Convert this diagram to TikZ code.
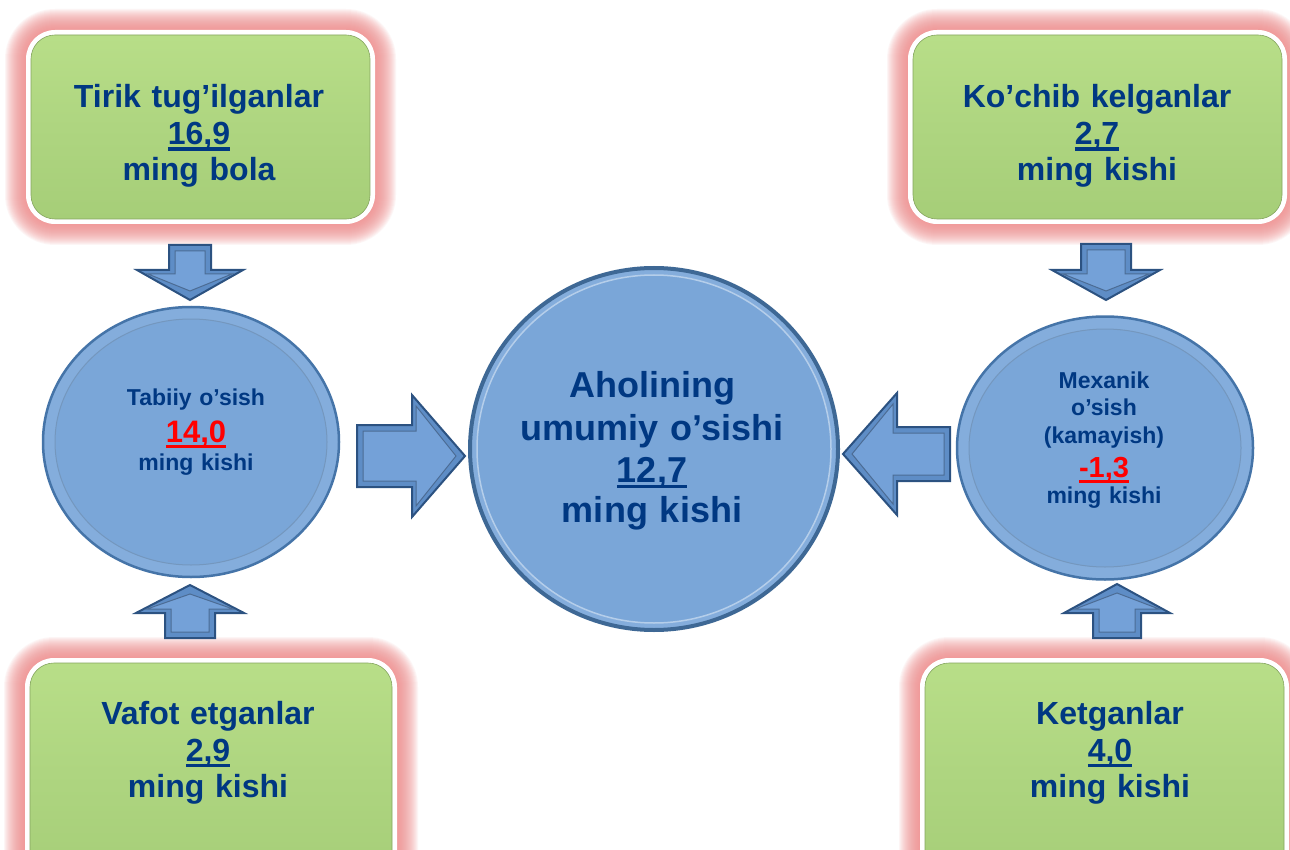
\documentclass[tikz,border=0pt]{standalone}
\usepackage{fontspec}
\setmainfont{Liberation Sans}
\usetikzlibrary{shapes.geometric,calc}
\definecolor{txtblue}{HTML}{003882}
\definecolor{glowpink}{HTML}{F08C8C}
\definecolor{gMid}{HTML}{AED580}
\definecolor{gTop}{HTML}{B8DE88}
\definecolor{gBot}{HTML}{A6CE78}
\definecolor{cFill}{HTML}{7AA6D8}
\definecolor{cBand}{HTML}{84ADDC}
\definecolor{cEdge}{HTML}{4574A8}
\definecolor{cEdgeDark}{HTML}{3E6895}
\definecolor{aBand}{HTML}{5E8DC6}
\definecolor{aFill}{HTML}{74A1D8}
\definecolor{aEdge}{HTML}{2C5281}
\newsavebox\ulbox
\newcommand\numul[1]{\leavevmode\sbox\ulbox{#1}\rlap{\rule[-6pt]{\wd\ulbox}{3.5pt}}\usebox\ulbox}
\tikzset{
  gbx/.style={rectangle, rounded corners=24, top color=gTop, bottom color=gBot, middle color=gMid, draw=gBot!80!black, line width=0.6pt, inner sep=0},
  txt/.style={text=txtblue, font=\bfseries\fontsize{32}{37}\selectfont, align=center, text width=360, inner sep=0, anchor=base},
  circ/.style={ellipse, fill=cBand, draw=cEdge, line width=2.5pt, inner sep=0},
}
\newcommand\gbox[5]{%
  \foreach \e in {6,...,26}{\fill[glowpink, opacity=0.08, rounded corners=24+\e] (#2-\e,#3-\e) rectangle (#4+\e,#5+\e);}
  \fill[white, rounded corners=29] (#2-5,#3-5) rectangle (#4+5,#5+5);
  \node[gbx, minimum width=#4-#2, minimum height=#5-#3] (#1) at ({(#2+#4)/2},{(#3+#5)/2}) {};
}
% tip x, tip y, angle, head length, head half, shaft length, shaft half
\newcommand\barrow[7]{%
  \begin{scope}[shift={(#1,#2)},rotate=#3]
    \filldraw[fill=aBand, draw=aEdge, line width=2pt, line join=miter] (0,0) -- (-#4,#5) -- (-#4,#7) -- (-#4-#6,#7) -- (-#4-#6,-#7) -- (-#4,-#7) -- (-#4,-#5) -- cycle;
    \filldraw[fill=aFill, draw=aEdge!85, line width=1pt] (-9,0) -- (-#4+4,#5-11) -- (-#4+4,#7-6) -- (-#4-#6+6,#7-6) -- (-#4-#6+6,-#7+6) -- (-#4+4,-#7+6) -- (-#4+4,-#5+11) -- cycle;
  \end{scope}}
\begin{document}
\begin{tikzpicture}[x=1pt,y=-1pt]
\useasboundingbox (0,0) rectangle (1290,850);
\clip (0,0) rectangle (1290,850);
\fill[white] (0,0) rectangle (1290,850);

% green boxes
\gbox{b1}{31}{35}{370}{219}
\gbox{b2}{913}{35}{1282}{219}
\gbox{b3}{30}{663}{392}{880}
\gbox{b4}{925}{663}{1284}{880}

\node[txt] (t1) at (199,108) {Tirik tug’ilganlar\\\numul{16,9}\\[-1pt]ming bola};
\node[txt] (t2) at (1097,108) {Ko’chib kelganlar\\\numul{2,7}\\[-1pt]ming kishi};
\node[txt] (t3) at (208,724) {Vafot etganlar\\\numul{2,9}\\[-1pt]ming kishi};
\node[txt] (t4) at (1110,724) {Ketganlar\\\numul{4,0}\\[-1pt]ming kishi};

% arrows
\barrow{190}{300}{-90}{30}{53}{25}{21}
\barrow{1106}{300}{-90}{30}{54}{26}{25}
\barrow{190}{585}{90}{28}{54}{25}{25}
\barrow{1117}{584}{90}{29}{53}{25}{24}
\barrow{465}{456}{0}{53}{61}{55}{31}
\barrow{843}{454}{180}{54}{61}{53}{27}

% circles
\node[circ, minimum width=296, minimum height=270] (c1) at (191,442) {};
\draw[cEdge!75, line width=1pt, fill=cFill] (c1.center) ellipse [x radius=136, y radius=123];
\node[circ, minimum width=296, minimum height=263] (c2) at (1105,448) {};
\draw[cEdge!75, line width=1pt, fill=cFill] (c2.center) ellipse [x radius=136, y radius=119];
\node[circ, draw=cEdgeDark, line width=4pt, minimum width=368, minimum height=362] (c3) at (654,449) {};
\draw[cBand!60!white, line width=1.5pt, fill=cFill] (c3.center) ellipse [x radius=177, y radius=174];

\node[txt, font=\bfseries\fontsize{23}{28}\selectfont] (c1t) at (196,405)
  {Tabiiy o’sish\\[9pt]{\color{red}\fontsize{31}{28}\selectfont\numul{14,0}}\\ming kishi};
\node[txt, font=\bfseries\fontsize{23}{27}\selectfont] (c2t) at (1104,388)
  {Mexanik\\o’sish\\[1pt](kamayish)\\[7pt]{\color{red}\fontsize{29}{27}\selectfont\numul{-1,3}}\\[-1pt]ming kishi};
\node[txt, font=\bfseries\fontsize{36}{41}\selectfont] (c3t) at (652,397)
  {Aholining\\[2pt]umumiy o’sishi\\[1pt]\numul{12,7}\\[-1pt]ming kishi};
\end{tikzpicture}
\end{document}
